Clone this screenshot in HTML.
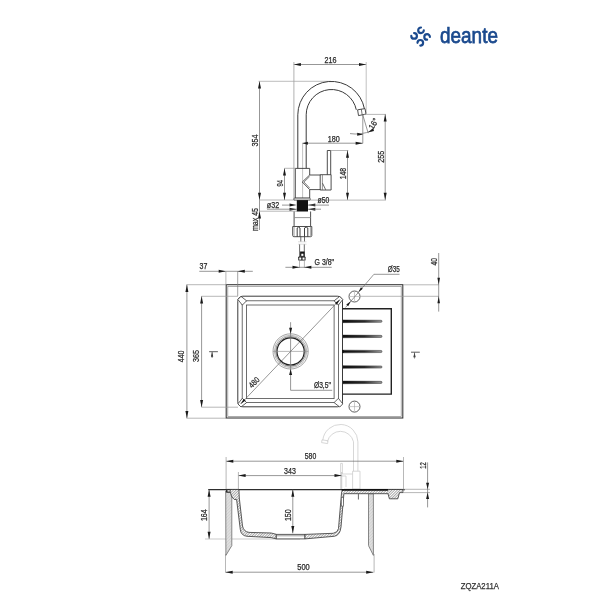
<!DOCTYPE html>
<html><head><meta charset="utf-8"><style>
html,body{margin:0;padding:0;background:#fff;width:615px;height:615px;overflow:hidden}
svg{display:block}
text{font-family:"Liberation Sans",sans-serif}
svg{will-change:transform}
</style></head><body>
<svg width="615" height="615" viewBox="0 0 615 615">
<defs>
<pattern id="h" patternUnits="userSpaceOnUse" width="1.9" height="1.9" patternTransform="rotate(45)">
<rect width="1.9" height="1.9" fill="#fff"/><line x1="0" y1="0" x2="0" y2="1.9" stroke="#3a3a3a" stroke-width="0.85"/></pattern>
<pattern id="hl" patternUnits="userSpaceOnUse" width="2.2" height="2.2" patternTransform="rotate(45)">
<rect width="2.2" height="2.2" fill="#dedede"/><line x1="0" y1="0" x2="0" y2="2.2" stroke="#c4c4c4" stroke-width="0.8"/></pattern>
</defs>
<rect width="615" height="615" fill="#fff"/>
<path d="M423.80,30.30 A2.8,2.8 0 1 1 421.00,27.50" stroke="#1b4a8e" stroke-width="2.2" fill="none" stroke-linecap="round"/>
<path d="M427.10,39.70 A2.8,2.8 0 1 1 429.90,36.90" stroke="#1b4a8e" stroke-width="2.2" fill="none" stroke-linecap="round"/>
<path d="M417.50,42.80 A2.8,2.8 0 1 1 420.30,45.60" stroke="#1b4a8e" stroke-width="2.2" fill="none" stroke-linecap="round"/>
<path d="M414.10,33.10 A2.8,2.8 0 1 1 411.30,35.90" stroke="#1b4a8e" stroke-width="2.2" fill="none" stroke-linecap="round"/>
<text x="440.1" y="43.1" font-size="22.2" fill="#1b4a8e" stroke="#1b4a8e" stroke-width="0.75" textLength="57.8" lengthAdjust="spacingAndGlyphs">deante</text>
<line x1="293.7" y1="64.5" x2="366.2" y2="64.5" stroke="#6a6a6a" stroke-width="0.7" />
<polygon points="293.70,64.50 300.90,63.00 300.90,66.00" fill="#1a1a1a"/>
<polygon points="366.20,64.50 359.00,66.00 359.00,63.00" fill="#1a1a1a"/>
<text x="330.6" y="60.3" dy="0.36em" font-size="8.2" text-anchor="middle" fill="#2a2a2a" stroke="#2a2a2a" stroke-width="0.25" textLength="12" lengthAdjust="spacingAndGlyphs">216</text>
<line x1="293.9" y1="62" x2="293.9" y2="200" stroke="#a8a8a8" stroke-width="0.9" />
<line x1="366.2" y1="62" x2="366.2" y2="113" stroke="#a8a8a8" stroke-width="0.7" />
<line x1="259.5" y1="81.3" x2="259.5" y2="230" stroke="#6a6a6a" stroke-width="0.7" />
<polygon points="259.50,81.30 261.00,88.50 258.00,88.50" fill="#1a1a1a"/>
<polygon points="259.50,199.90 258.00,192.70 261.00,192.70" fill="#1a1a1a"/>
<line x1="258.5" y1="81.3" x2="331" y2="81.3" stroke="#a0a0a0" stroke-width="0.7" />
<text x="255" y="140.5" dy="0.36em" font-size="8.2" text-anchor="middle" fill="#2a2a2a" stroke="#2a2a2a" stroke-width="0.25" textLength="12" lengthAdjust="spacingAndGlyphs" transform="rotate(-90 255 140.5)">354</text>
<polygon points="259.50,211.20 261.00,218.40 258.00,218.40" fill="#1a1a1a"/>
<line x1="259.5" y1="211.2" x2="297" y2="211.2" stroke="#9a9a9a" stroke-width="0.7" />
<line x1="259.5" y1="200.0" x2="295" y2="200.0" stroke="#9a9a9a" stroke-width="0.7" />
<text x="254.6" y="219.5" dy="0.36em" font-size="8.2" text-anchor="middle" fill="#2a2a2a" stroke="#2a2a2a" stroke-width="0.25" textLength="23" lengthAdjust="spacingAndGlyphs" transform="rotate(-90 254.6 219.5)">max 45</text>
<path d="M297.8,168.3 L297.8,114.8 A33.6,33.6 0 0 1 364.4,108.7" stroke="#3a3a3a" stroke-width="1.0" fill="none" />
<path d="M306.2,168.3 L306.2,114.8 A25.3,25.3 0 0 1 356.3,109.8" stroke="#3a3a3a" stroke-width="1.0" fill="none" />
<path d="M357.6,109.8 L365.0,108.6 L366.0,114.1 L358.5,115.6 Z" stroke="#3a3a3a" stroke-width="0.9" fill="none" />
<line x1="361.3" y1="109.2" x2="362.2" y2="114.9" stroke="#3a3a3a" stroke-width="0.7" />
<line x1="364" y1="114.4" x2="386" y2="114.4" stroke="#9a9a9a" stroke-width="0.7" />
<line x1="385.2" y1="114.4" x2="385.2" y2="200" stroke="#6a6a6a" stroke-width="0.7" />
<polygon points="385.20,114.40 386.70,121.60 383.70,121.60" fill="#1a1a1a"/>
<polygon points="385.20,199.90 383.70,192.70 386.70,192.70" fill="#1a1a1a"/>
<text x="381" y="156.8" dy="0.36em" font-size="8.2" text-anchor="middle" fill="#2a2a2a" stroke="#2a2a2a" stroke-width="0.25" textLength="12" lengthAdjust="spacingAndGlyphs" transform="rotate(-90 381 156.8)">255</text>
<line x1="362.8" y1="115" x2="362.8" y2="143.3" stroke="#6a6a6a" stroke-width="0.7" />
<line x1="362.8" y1="115" x2="368.2" y2="133.2" stroke="#6a6a6a" stroke-width="0.7" />
<path d="M350,133.6 Q360,135.2 372.5,130.8" stroke="#6a6a6a" stroke-width="0.7" fill="none" />
<polygon points="363.20,134.60 357.13,135.80 357.28,132.80" fill="#1a1a1a"/>
<polygon points="368.00,132.20 372.86,128.37 374.09,131.11" fill="#1a1a1a"/>
<text x="373.4" y="123.6" dy="0.36em" font-size="8.2" text-anchor="middle" fill="#2a2a2a" stroke="#2a2a2a" stroke-width="0.25" textLength="11.5" lengthAdjust="spacingAndGlyphs" transform="rotate(-60 373.4 123.6)">16°</text>
<line x1="302.4" y1="143.2" x2="362.8" y2="143.2" stroke="#6a6a6a" stroke-width="0.7" />
<polygon points="302.40,143.20 307.90,141.70 307.90,144.70" fill="#1a1a1a"/>
<polygon points="362.80,143.20 355.60,144.70 355.60,141.70" fill="#1a1a1a"/>
<line x1="302.6" y1="143" x2="302.6" y2="200" stroke="#a8a8a8" stroke-width="0.7" />
<text x="333.7" y="139" dy="0.36em" font-size="8.2" text-anchor="middle" fill="#2a2a2a" stroke="#2a2a2a" stroke-width="0.25" textLength="12" lengthAdjust="spacingAndGlyphs">180</text>
<path d="M295.3,168.4 L309.7,168.4 L309.7,175 L302.3,182 L309.7,189.6 L309.7,198.2 L295.3,198.2 Z" stroke="#3a3a3a" stroke-width="0.9" fill="none" />
<path d="M309.7,176.6 L304.0,182 L309.7,188.0" stroke="#5a5a5a" stroke-width="0.7" fill="none" />
<line x1="309.7" y1="175" x2="320.3" y2="175" stroke="#3c3c3c" stroke-width="0.9" />
<line x1="309.7" y1="189.6" x2="320.3" y2="189.6" stroke="#3c3c3c" stroke-width="0.9" />
<path d="M320.2,174.7 L331.1,174.7 L331.1,190 L320.2,190 Z" stroke="#3a3a3a" stroke-width="0.9" fill="none" />
<line x1="322.4" y1="175" x2="322.4" y2="190" stroke="#666" stroke-width="0.7" />
<line x1="322.5" y1="183.2" x2="325.7" y2="189.8" stroke="#444" stroke-width="0.8" />
<path d="M327.3,174.7 L327.3,150.5 L330.7,150.5 L330.7,174.7" stroke="#3a3a3a" stroke-width="0.9" fill="none" />
<line x1="284.5" y1="168.3" x2="284.5" y2="199.9" stroke="#6a6a6a" stroke-width="0.7" />
<polygon points="284.50,168.30 286.00,175.50 283.00,175.50" fill="#1a1a1a"/>
<polygon points="284.50,199.90 283.00,192.70 286.00,192.70" fill="#1a1a1a"/>
<line x1="284.5" y1="168.3" x2="295.3" y2="168.3" stroke="#9a9a9a" stroke-width="0.7" />
<text x="280" y="183.2" dy="0.36em" font-size="8.2" text-anchor="middle" fill="#2a2a2a" stroke="#2a2a2a" stroke-width="0.25" textLength="6.5" lengthAdjust="spacingAndGlyphs" transform="rotate(-90 280 183.2)">94</text>
<line x1="330.7" y1="150.5" x2="348.3" y2="150.5" stroke="#9a9a9a" stroke-width="0.7" />
<line x1="347.5" y1="150.5" x2="347.5" y2="200" stroke="#6a6a6a" stroke-width="0.7" />
<polygon points="347.50,150.50 349.00,157.70 346.00,157.70" fill="#1a1a1a"/>
<polygon points="347.50,199.90 346.00,192.70 349.00,192.70" fill="#1a1a1a"/>
<text x="343.2" y="173.6" dy="0.36em" font-size="8.2" text-anchor="middle" fill="#2a2a2a" stroke="#2a2a2a" stroke-width="0.25" textLength="11.5" lengthAdjust="spacingAndGlyphs" transform="rotate(-90 343.2 173.6)">148</text>
<line x1="309.5" y1="200.1" x2="386" y2="200.1" stroke="#9a9a9a" stroke-width="0.7" />
<rect x="293.9" y="198.1" width="16.4" height="2" rx="0.8" fill="#fff" stroke="#3a3a3a" stroke-width="0.8"/>
<rect x="296.8" y="200.1" width="11.2" height="11.4" fill="#111"/>
<polygon points="296.70,205.10 289.50,206.60 289.50,203.60" fill="#1a1a1a"/>
<polygon points="308.10,205.10 315.30,203.60 315.30,206.60" fill="#1a1a1a"/>
<line x1="282" y1="205.1" x2="290" y2="205.1" stroke="#6a6a6a" stroke-width="0.7" />
<line x1="308" y1="205.1" x2="329" y2="205.1" stroke="#6a6a6a" stroke-width="0.7" />
<text x="323.4" y="200.3" dy="0.36em" font-size="8.2" text-anchor="middle" fill="#2a2a2a" stroke="#2a2a2a" stroke-width="0.25" textLength="11.7" lengthAdjust="spacingAndGlyphs">ø50</text>
<polygon points="296.70,209.20 289.50,210.70 289.50,207.70" fill="#1a1a1a"/>
<polygon points="308.10,209.20 315.30,207.70 315.30,210.70" fill="#1a1a1a"/>
<line x1="267" y1="209.2" x2="297" y2="209.2" stroke="#6a6a6a" stroke-width="0.7" />
<line x1="308" y1="209.2" x2="321" y2="209.2" stroke="#6a6a6a" stroke-width="0.7" />
<text x="273" y="204.9" dy="0.36em" font-size="8.2" text-anchor="middle" fill="#2a2a2a" stroke="#2a2a2a" stroke-width="0.25" textLength="12.3" lengthAdjust="spacingAndGlyphs">ø32</text>
<path d="M294.1,211.5 L294.1,226.5 M310.6,211.5 L310.6,226.5" stroke="#3a3a3a" stroke-width="0.9" fill="none" />
<line x1="294.1" y1="217.6" x2="310.6" y2="217.6" stroke="#8a8a8a" stroke-width="0.9" />
<path d="M292.7,226.5 L311.8,226.5 L311.8,235.5 Q311.8,236.7 310.6,236.7 L293.9,236.7 Q292.7,236.7 292.7,235.5 Z" stroke="#3a3a3a" stroke-width="0.9" fill="none" />
<line x1="294.1" y1="226.6" x2="294.1" y2="236.6" stroke="#888" stroke-width="0.7" />
<line x1="310.4" y1="226.6" x2="310.4" y2="236.6" stroke="#888" stroke-width="0.7" />
<path d="M297.2,236.7 L297.2,228 Q298.6,226 300,228 L300,236.7" stroke="#2a2a2a" stroke-width="0.9" fill="none" />
<path d="M304.5,236.7 L304.5,228 Q306.1,226 307.8,228 L307.8,236.7" stroke="#2a2a2a" stroke-width="0.9" fill="none" />
<line x1="300.8" y1="236.7" x2="300.8" y2="241.6" stroke="#444" stroke-width="0.8" />
<line x1="304.5" y1="236.7" x2="304.5" y2="241.6" stroke="#444" stroke-width="0.8" />
<line x1="298" y1="241.8" x2="306.5" y2="241.8" stroke="#bbb" stroke-width="0.5" />
<line x1="298" y1="244.2" x2="306.5" y2="244.2" stroke="#bbb" stroke-width="0.5" />
<line x1="299.6" y1="244.4" x2="299.6" y2="257" stroke="#444" stroke-width="0.8" />
<line x1="304.3" y1="244.4" x2="304.3" y2="257" stroke="#444" stroke-width="0.8" />
<rect x="300.1" y="251.5" width="4.5" height="5.2" fill="#151515"/>
<rect x="301.3" y="253.7" width="2.1" height="2.2" fill="#fff"/>
<rect x="298.3" y="256.6" width="7.2" height="4.0" rx="0.7" fill="#151515"/>
<rect x="299.2" y="257.5" width="2.1" height="2.2" fill="#fff"/>
<rect x="302.5" y="257.5" width="2.1" height="2.2" fill="#fff"/>
<line x1="299.5" y1="260.5" x2="299.5" y2="268" stroke="#999" stroke-width="0.7" />
<line x1="304.4" y1="260.5" x2="304.4" y2="268" stroke="#999" stroke-width="0.7" />
<line x1="285.4" y1="267.3" x2="331.7" y2="267.3" stroke="#6a6a6a" stroke-width="0.7" />
<polygon points="299.50,267.30 292.50,268.80 292.50,265.80" fill="#1a1a1a"/>
<polygon points="304.40,267.30 311.40,265.80 311.40,268.80" fill="#1a1a1a"/>
<text x="324.3" y="262.2" dy="0.36em" font-size="8.2" text-anchor="middle" fill="#2a2a2a" stroke="#2a2a2a" stroke-width="0.25" textLength="19.5" lengthAdjust="spacingAndGlyphs">G 3/8"</text>
<rect x="226.2" y="284.7" width="176.6" height="133.3" fill="none" stroke="#3a3a3a" stroke-width="1.1"/>
<rect x="227.8" y="286.5" width="173.4" height="129.9" fill="none" stroke="#8a8a8a" stroke-width="0.7"/>
<rect x="237.8" y="296.2" width="104.7" height="110.6" rx="5" fill="none" stroke="#3a3a3a" stroke-width="1.0"/>
<rect x="242.2" y="300.8" width="96.2" height="101.8" fill="none" stroke="#4a4a4a" stroke-width="0.8"/>
<rect x="246.5" y="305.0" width="87.6" height="93.6" fill="none" stroke="#4a4a4a" stroke-width="0.8"/>
<polygon points="237.9,299.5 241.0,296.4 246.6,300.8 242.3,305.1" fill="#fff" stroke="#3a3a3a" stroke-width="0.8"/>
<polygon points="342.8,299.5 339.7,296.4 334.1,300.8 338.4,305.1" fill="#fff" stroke="#3a3a3a" stroke-width="0.8"/>
<polygon points="237.9,403.9 241.0,407.0 246.6,402.6 242.3,398.3" fill="#fff" stroke="#3a3a3a" stroke-width="0.8"/>
<polygon points="342.8,403.9 339.7,407.0 334.1,402.6 338.4,398.3" fill="#fff" stroke="#3a3a3a" stroke-width="0.8"/>
<line x1="199.3" y1="271.3" x2="252.8" y2="271.3" stroke="#6a6a6a" stroke-width="0.7" />
<polygon points="225.90,271.30 218.70,272.80 218.70,269.80" fill="#1a1a1a"/>
<polygon points="237.60,271.30 244.80,269.80 244.80,272.80" fill="#1a1a1a"/>
<line x1="225.9" y1="271" x2="225.9" y2="285" stroke="#9a9a9a" stroke-width="0.7" />
<line x1="237.7" y1="271" x2="237.7" y2="296" stroke="#7a7a7a" stroke-width="0.7" />
<text x="203.4" y="266.1" dy="0.36em" font-size="8.2" text-anchor="middle" fill="#2a2a2a" stroke="#2a2a2a" stroke-width="0.25" textLength="7.8" lengthAdjust="spacingAndGlyphs">37</text>
<line x1="186.5" y1="284.7" x2="226" y2="284.7" stroke="#9a9a9a" stroke-width="0.7" />
<line x1="186.9" y1="284.7" x2="186.9" y2="418.2" stroke="#6a6a6a" stroke-width="0.7" />
<polygon points="186.90,284.70 188.40,291.90 185.40,291.90" fill="#1a1a1a"/>
<polygon points="186.90,418.20 185.40,411.00 188.40,411.00" fill="#1a1a1a"/>
<line x1="186.5" y1="418.2" x2="226" y2="418.2" stroke="#9a9a9a" stroke-width="0.7" />
<text x="181.4" y="356.4" dy="0.36em" font-size="8.2" text-anchor="middle" fill="#2a2a2a" stroke="#2a2a2a" stroke-width="0.25" textLength="11.7" lengthAdjust="spacingAndGlyphs" transform="rotate(-90 181.4 356.4)">440</text>
<line x1="201.5" y1="296.3" x2="238" y2="296.3" stroke="#9a9a9a" stroke-width="0.7" />
<line x1="201.6" y1="296.3" x2="201.6" y2="407.2" stroke="#6a6a6a" stroke-width="0.7" />
<polygon points="201.60,296.30 203.10,303.50 200.10,303.50" fill="#1a1a1a"/>
<polygon points="201.60,407.20 200.10,400.00 203.10,400.00" fill="#1a1a1a"/>
<line x1="201.5" y1="407.2" x2="238" y2="407.2" stroke="#9a9a9a" stroke-width="0.7" />
<text x="196" y="356.1" dy="0.36em" font-size="8.2" text-anchor="middle" fill="#2a2a2a" stroke="#2a2a2a" stroke-width="0.25" textLength="12" lengthAdjust="spacingAndGlyphs" transform="rotate(-90 196 356.1)">365</text>
<line x1="209.1" y1="351.7" x2="217.9" y2="351.7" stroke="#333" stroke-width="0.8" />
<polygon points="212.10,351.80 213.20,356.80 211.00,356.80" fill="#1a1a1a"/>
<line x1="212.1" y1="352" x2="212.1" y2="358" stroke="#555" stroke-width="0.7" />
<line x1="411" y1="352.2" x2="419.8" y2="352.2" stroke="#333" stroke-width="0.8" />
<polygon points="414.50,352.30 415.60,357.30 413.40,357.30" fill="#1a1a1a"/>
<line x1="414.5" y1="352.5" x2="414.5" y2="358.5" stroke="#555" stroke-width="0.7" />
<line x1="240.6" y1="404.0" x2="340.0" y2="299.5" stroke="#6a6a6a" stroke-width="0.7" />
<polygon points="240.60,404.00 243.83,398.79 245.64,400.52" fill="#1a1a1a"/>
<polygon points="340.00,299.50 336.77,304.71 334.96,302.98" fill="#1a1a1a"/>
<text x="254" y="382.4" dy="0.36em" font-size="8.2" text-anchor="middle" fill="#2a2a2a" stroke="#2a2a2a" stroke-width="0.25" textLength="11.5" lengthAdjust="spacingAndGlyphs" transform="rotate(-46 254 382.4)">480</text>
<circle cx="290.6" cy="351.4" r="17.6" fill="none" stroke="#666" stroke-width="0.6"/>
<circle cx="290.6" cy="351.4" r="16.2" fill="none" stroke="#777" stroke-width="0.55"/>
<circle cx="290.6" cy="351.4" r="14.9" fill="none" stroke="#555" stroke-width="0.65"/>
<circle cx="290.6" cy="351.4" r="13.6" fill="none" stroke="#1e1e1e" stroke-width="1.15"/>
<line x1="273" y1="351.4" x2="308.2" y2="351.4" stroke="#888" stroke-width="0.6" />
<line x1="290.6" y1="322.2" x2="290.6" y2="390.3" stroke="#6a6a6a" stroke-width="0.7" />
<line x1="290.6" y1="390.3" x2="332.2" y2="390.3" stroke="#6a6a6a" stroke-width="0.7" />
<polygon points="290.60,333.80 289.10,327.80 292.10,327.80" fill="#1a1a1a"/>
<polygon points="290.60,369.00 292.10,375.00 289.10,375.00" fill="#1a1a1a"/>
<text x="322.4" y="385.5" dy="0.36em" font-size="8.2" text-anchor="middle" fill="#2a2a2a" stroke="#2a2a2a" stroke-width="0.25" textLength="17" lengthAdjust="spacingAndGlyphs">Ø3,5"</text>
<path d="M342.5,308.7 L391.3,308.7 L391.3,394.1 L342.5,394.1" fill="none" stroke="#222" stroke-width="1.4"/>
<defs><linearGradient id="gr" x1="0" x2="1" y1="0" y2="0"><stop offset="0" stop-color="#0e0e0e"/><stop offset="0.55" stop-color="#2a2a2a"/><stop offset="1" stop-color="#9a9a9a"/></linearGradient></defs>
<path d="M343,319.95 L381,320.25 A1.05,1.05 0 0 1 381,322.35 L343,322.65000000000003 Z" fill="url(#gr)" stroke="#222" stroke-width="0.45"/>
<path d="M343,335.04999999999995 L381,335.34999999999997 A1.05,1.05 0 0 1 381,337.45 L343,337.75 Z" fill="url(#gr)" stroke="#222" stroke-width="0.45"/>
<path d="M343,350.15 L381,350.45 A1.05,1.05 0 0 1 381,352.55 L343,352.85 Z" fill="url(#gr)" stroke="#222" stroke-width="0.45"/>
<path d="M343,365.65 L381,365.95 A1.05,1.05 0 0 1 381,368.05 L343,368.35 Z" fill="url(#gr)" stroke="#222" stroke-width="0.45"/>
<path d="M343,381.04999999999995 L381,381.34999999999997 A1.05,1.05 0 0 1 381,383.45 L343,383.75 Z" fill="url(#gr)" stroke="#222" stroke-width="0.45"/>
<line x1="342.9" y1="350" x2="342.9" y2="353" stroke="#111" stroke-width="1.5" />
<circle cx="354.5" cy="296.5" r="5.5" fill="#fff" stroke="#333" stroke-width="0.8"/>
<line x1="350" y1="296.5" x2="359" y2="296.5" stroke="#999" stroke-width="0.5" />
<line x1="354.5" y1="292.0" x2="354.5" y2="301.0" stroke="#999" stroke-width="0.5" />
<circle cx="354.5" cy="406.6" r="5.5" fill="#fff" stroke="#333" stroke-width="0.8"/>
<line x1="350" y1="406.6" x2="359" y2="406.6" stroke="#999" stroke-width="0.5" />
<line x1="354.5" y1="402.1" x2="354.5" y2="411.1" stroke="#999" stroke-width="0.5" />
<line x1="345.5" y1="307.5" x2="373.9" y2="274.3" stroke="#6a6a6a" stroke-width="0.7" />
<line x1="373.9" y1="274.3" x2="399.5" y2="274.3" stroke="#6a6a6a" stroke-width="0.7" />
<polygon points="350.80,301.20 348.15,306.16 346.32,304.61" fill="#1a1a1a"/>
<polygon points="358.30,292.20 360.95,287.24 362.78,288.79" fill="#1a1a1a"/>
<text x="393.8" y="269.2" dy="0.36em" font-size="8.2" text-anchor="middle" fill="#2a2a2a" stroke="#2a2a2a" stroke-width="0.25" textLength="12" lengthAdjust="spacingAndGlyphs">Ø35</text>
<line x1="403" y1="284.8" x2="439" y2="284.8" stroke="#9a9a9a" stroke-width="0.7" />
<line x1="360" y1="296.3" x2="439" y2="296.3" stroke="#9a9a9a" stroke-width="0.7" />
<line x1="438.7" y1="253" x2="438.7" y2="311.6" stroke="#6a6a6a" stroke-width="0.7" />
<polygon points="438.70,284.80 437.40,277.80 440.00,277.80" fill="#1a1a1a"/>
<polygon points="438.70,296.30 440.00,303.30 437.40,303.30" fill="#1a1a1a"/>
<text x="434" y="261.8" dy="0.36em" font-size="8.2" text-anchor="middle" fill="#2a2a2a" stroke="#2a2a2a" stroke-width="0.25" textLength="7.5" lengthAdjust="spacingAndGlyphs" transform="rotate(-90 434 261.8)">40</text>
<path d="M357.9,471.2 L357.9,441.8 A17.6,17.6 0 0 0 322.8,440.2" stroke="#cdcdcd" stroke-width="0.8" fill="none" />
<path d="M353.5,471.2 L353.5,441.8 A13.4,13.4 0 0 0 327.4,441.6" stroke="#cdcdcd" stroke-width="0.8" fill="none" />
<path d="M322,439.8 L328,440.8 L327.6,443.6 L321.6,442.6 Z" stroke="#cdcdcd" stroke-width="0.8" fill="none" />
<path d="M352.6,471.2 L360,471.2 L360,489 L352.6,489 Z" stroke="#cdcdcd" stroke-width="0.8" fill="none" />
<path d="M340.6,489 L340.6,463.4 L342.4,463.4 L342.4,474 L352.6,474" stroke="#cdcdcd" stroke-width="0.8" fill="none" />
<path d="M341,476 L346,476 L346,487" stroke="#cdcdcd" stroke-width="0.8" fill="none" />
<line x1="226.1" y1="461.2" x2="403.5" y2="461.2" stroke="#6a6a6a" stroke-width="0.7" />
<polygon points="226.10,461.20 233.30,459.70 233.30,462.70" fill="#1a1a1a"/>
<polygon points="403.50,461.20 396.30,462.70 396.30,459.70" fill="#1a1a1a"/>
<line x1="226.1" y1="457" x2="226.1" y2="489.5" stroke="#9a9a9a" stroke-width="0.7" />
<line x1="403.5" y1="457" x2="403.5" y2="489.5" stroke="#9a9a9a" stroke-width="0.7" />
<text x="310.5" y="456" dy="0.36em" font-size="8.2" text-anchor="middle" fill="#2a2a2a" stroke="#2a2a2a" stroke-width="0.25" textLength="11.4" lengthAdjust="spacingAndGlyphs">580</text>
<line x1="238.4" y1="475.6" x2="341.7" y2="475.6" stroke="#6a6a6a" stroke-width="0.7" />
<polygon points="238.40,475.60 245.60,474.10 245.60,477.10" fill="#1a1a1a"/>
<polygon points="341.70,475.60 334.50,477.10 334.50,474.10" fill="#1a1a1a"/>
<line x1="238.4" y1="472" x2="238.4" y2="489.5" stroke="#9a9a9a" stroke-width="0.7" />
<line x1="341.7" y1="472" x2="341.7" y2="489.5" stroke="#b0b0b0" stroke-width="0.7" />
<text x="290" y="470.9" dy="0.36em" font-size="8.2" text-anchor="middle" fill="#2a2a2a" stroke="#2a2a2a" stroke-width="0.25" textLength="11.8" lengthAdjust="spacingAndGlyphs">343</text>
<line x1="208.2" y1="489.6" x2="405" y2="489.6" stroke="#2e2e2e" stroke-width="1.1" />
<line x1="403" y1="492.6" x2="430" y2="492.6" stroke="#9a9a9a" stroke-width="0.7" />
<line x1="403" y1="489.3" x2="430" y2="489.3" stroke="#9a9a9a" stroke-width="0.7" />
<line x1="427.6" y1="462.4" x2="427.6" y2="507.4" stroke="#6a6a6a" stroke-width="0.7" />
<polygon points="427.60,489.20 426.10,482.70 429.10,482.70" fill="#1a1a1a"/>
<polygon points="427.60,492.60 429.10,499.10 426.10,499.10" fill="#1a1a1a"/>
<text x="422.8" y="465.6" dy="0.36em" font-size="8.2" text-anchor="middle" fill="#2a2a2a" stroke="#2a2a2a" stroke-width="0.25" textLength="6.5" lengthAdjust="spacingAndGlyphs" transform="rotate(-90 422.8 465.6)">12</text>
<line x1="209.1" y1="489.6" x2="209.1" y2="539" stroke="#6a6a6a" stroke-width="0.7" />
<polygon points="209.10,489.60 210.60,496.80 207.60,496.80" fill="#1a1a1a"/>
<polygon points="209.10,539.00 207.60,531.80 210.60,531.80" fill="#1a1a1a"/>
<line x1="205" y1="539" x2="300" y2="539" stroke="#a8a8a8" stroke-width="0.6" />
<text x="203.8" y="515.2" dy="0.36em" font-size="8.2" text-anchor="middle" fill="#2a2a2a" stroke="#2a2a2a" stroke-width="0.25" textLength="11.7" lengthAdjust="spacingAndGlyphs" transform="rotate(-90 203.8 515.2)">164</text>
<line x1="292.8" y1="489.6" x2="292.8" y2="533.3" stroke="#6a6a6a" stroke-width="0.7" />
<polygon points="292.80,489.60 294.30,496.80 291.30,496.80" fill="#1a1a1a"/>
<polygon points="292.80,533.30 291.30,526.10 294.30,526.10" fill="#1a1a1a"/>
<text x="287.9" y="515.2" dy="0.36em" font-size="8.2" text-anchor="middle" fill="#2a2a2a" stroke="#2a2a2a" stroke-width="0.25" textLength="11.7" lengthAdjust="spacingAndGlyphs" transform="rotate(-90 287.9 515.2)">150</text>
<line x1="225.5" y1="572.2" x2="373.4" y2="572.2" stroke="#6a6a6a" stroke-width="0.7" />
<polygon points="225.50,572.20 232.70,570.70 232.70,573.70" fill="#1a1a1a"/>
<polygon points="373.40,572.20 366.20,573.70 366.20,570.70" fill="#1a1a1a"/>
<line x1="225.5" y1="554" x2="225.5" y2="572.5" stroke="#9a9a9a" stroke-width="0.7" />
<line x1="374.1" y1="554" x2="374.1" y2="572.5" stroke="#9a9a9a" stroke-width="0.7" />
<text x="303.5" y="566.9" dy="0.36em" font-size="8.2" text-anchor="middle" fill="#2a2a2a" stroke="#2a2a2a" stroke-width="0.25" textLength="12.5" lengthAdjust="spacingAndGlyphs">500</text>
<path d="M225.7,491.0 L231.8,491.0 L231.8,545.6 L225.9,555.4 Z" stroke="#7a7a7a" stroke-width="0.9" fill="url(#hl)" />
<path d="M368.5,493.7 L373.4,493.7 L373.4,555.4 L368.5,545.6 Z" stroke="#7a7a7a" stroke-width="0.9" fill="url(#hl)" />
<path d="M226.4,489.4 L238.9,489.4 L239.3,498 L242.5,526 Q243.6,531.6 249,532.4 L271.1,533 L276.3,534.3 L276.3,538.9 L271.1,537.6 L247,536.3 Q241,535.6 240.3,529.5 L236.6,499.6 L234.2,499.4 L231.6,496.6 L230.4,492.3 L226.4,492.3 Z" stroke="#333" stroke-width="0.8" fill="url(#h)" />
<path d="M226.4,489.6 L230.4,489.6 L230.4,492.3 L226.4,492.3 Z" fill="#111"/>
<path d="M227.4,490.2 L229.8,490.2 L229.8,491.6 L227.4,491.6 Z" fill="#fff"/>
<path d="M276.3,534.4 L305,534.4 L305,538.9 L276.3,538.9 Z" stroke="#333" stroke-width="0.8" fill="#fff" />
<line x1="276.3" y1="535.8" x2="305" y2="535.8" stroke="#555" stroke-width="0.6" />
<path d="M305,534.4 L333.2,533.3 Q337.8,532.6 338.5,528.5 L341.5,493 Q341.8,489.4 344,489.4 L402.9,489.4 L402.9,492.6 L399.5,492.6 L397.8,498.8 L389.4,498.8 L388,493.7 L343.9,493.7 L341,527 Q340,535.6 334.1,536.3 L305,538.9 Z" stroke="#333" stroke-width="0.8" fill="url(#h)" />
<line x1="341.7" y1="489.9" x2="388" y2="489.9" stroke="#111" stroke-width="1.8" />
<rect x="341.3" y="497.7" width="2.1" height="8.4" fill="#fff" stroke="#444" stroke-width="0.6"/>
<line x1="358.4" y1="493.7" x2="358.4" y2="499.5" stroke="#666" stroke-width="1.0" />
<text x="479.8" y="585.9" dy="0.36em" font-size="8.5" text-anchor="middle" fill="#333" stroke="#333" stroke-width="0.25" textLength="38.2" lengthAdjust="spacingAndGlyphs">ZQZA211A</text>
</svg></body></html>
